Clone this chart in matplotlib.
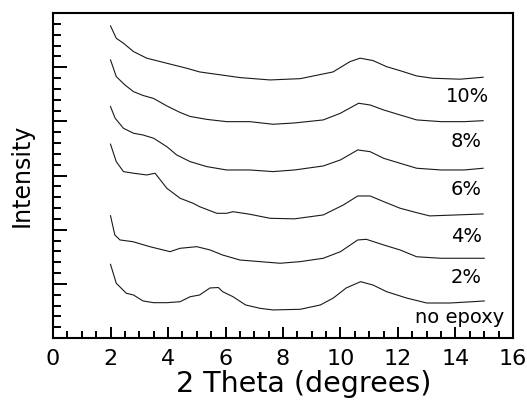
import matplotlib
matplotlib.use("Agg")
import matplotlib.pyplot as plt
from matplotlib.ticker import MultipleLocator

# XRD traces, stacked with an offset (arbitrary intensity units)
x_none = [2.0, 2.2, 2.55, 2.8, 3.13, 3.5, 3.96, 4.42, 4.77, 5.1, 5.46, 5.75, 5.9,
          6.26, 6.7, 7.2, 7.65, 8.6, 9.3, 9.75, 10.2, 10.7, 11.13, 11.6, 12.3,
          13.0, 13.8, 14.6, 15.0]
y_none = [6.80, 5.05, 4.13, 3.97, 3.42, 3.26, 3.26, 3.35, 3.81, 3.97, 4.62, 4.66, 4.28,
          3.81, 3.05, 2.74, 2.59, 2.65, 3.05, 3.69, 4.62, 5.20, 4.89, 4.28, 3.69,
          3.23, 3.23, 3.35, 3.42]

x_2 = [2.0, 2.15, 2.33, 2.78, 3.37, 4.07, 4.42, 5.0, 5.46, 5.9, 6.5, 7.2, 7.9,
       8.6, 9.4, 10.0, 10.6, 10.9, 11.5, 12.07, 12.65, 13.5, 14.3, 15.0]
y_2 = [11.29, 9.51, 9.05, 8.89, 8.43, 7.97, 8.28, 8.43, 8.13, 7.66, 7.20, 7.05, 6.90,
       7.05, 7.36, 7.97, 9.05, 9.11, 8.59, 8.13, 7.50, 7.36, 7.36, 7.36]

x_4 = [2.0, 2.2, 2.45, 2.8, 3.26, 3.55, 3.96, 4.42, 4.87, 5.1, 5.7, 6.04, 6.26,
       6.85, 7.55, 8.4, 9.4, 10.1, 10.6, 11.03, 11.5, 12.07, 12.65, 13.1, 14.04, 14.96]
y_4 = [17.89, 16.28, 15.36, 15.21, 15.05, 15.21, 13.82, 12.90, 12.44, 12.12, 11.51, 11.51, 11.66,
       11.42, 11.05, 11.00, 11.36, 12.28, 13.11, 13.11, 12.59, 11.98, 11.57, 11.27, 11.36, 11.45]

x_6 = [2.0, 2.16, 2.45, 2.8, 3.13, 3.5, 3.96, 4.3, 4.77, 5.35, 6.04, 6.85, 7.65,
       8.4, 9.4, 10.0, 10.6, 11.03, 11.5, 12.07, 12.65, 13.5, 14.3, 14.96]
y_6 = [21.36, 20.29, 19.36, 18.90, 18.74, 18.44, 17.66, 16.90, 16.28, 15.82, 15.51, 15.51, 15.36,
       15.51, 15.88, 16.44, 17.36, 17.20, 16.59, 16.13, 15.67, 15.51, 15.51, 15.67]

x_8 = [2.0, 2.2, 2.5, 2.8, 3.13, 3.5, 3.96, 4.42, 4.77, 5.35, 6.04, 6.85, 7.65,
       8.4, 9.4, 10.0, 10.63, 11.03, 11.5, 12.07, 12.65, 13.5, 14.3, 14.96]
y_8 = [25.67, 24.13, 23.36, 22.74, 22.39, 22.11, 21.42, 20.82, 20.45, 20.18, 19.97, 19.97, 19.73,
       19.85, 20.13, 20.75, 21.67, 21.51, 21.05, 20.59, 20.13, 19.97, 19.97, 20.06]

x_10 = [2.0, 2.2, 2.45, 2.8, 3.26, 3.96, 4.65, 5.1, 6.5, 7.55, 8.6, 9.74, 10.33,
        10.68, 11.13, 11.6, 12.07, 12.65, 13.2, 14.16, 14.96]
y_10 = [28.81, 27.67, 27.21, 26.44, 25.83, 25.36, 24.90, 24.56, 24.04, 23.82, 23.94, 24.56, 25.51,
        25.83, 25.61, 25.05, 24.68, 24.19, 23.98, 23.89, 24.07]

curves = [(x_none, y_none), (x_2, y_2), (x_4, y_4), (x_6, y_6), (x_8, y_8), (x_10, y_10)]

labels = ["no epoxy", "2%", "4%", "6%", "8%", "10%"]
label_x = [15.69, 14.92, 14.92, 14.92, 14.92, 15.17]
label_y = [1.43, 5.08, 8.86, 13.2, 17.64, 21.79]

fig = plt.figure(figsize=(5.27, 4.0), dpi=100)
ax = fig.add_axes([0.1006, 0.155, 0.8728, 0.8125])

for xs, ys in curves:
    ax.plot(xs, ys, color="#1a1a1a", linewidth=0.8)

for txt, tx, ty in zip(labels, label_x, label_y):
    ax.text(tx, ty, txt, ha="right", va="baseline", fontsize=14)

ax.set_xlim(0, 16)
ax.set_ylim(0, 30)
ax.xaxis.set_major_locator(MultipleLocator(2))
ax.xaxis.set_minor_locator(MultipleLocator(0.5))
ax.yaxis.set_major_locator(MultipleLocator(5))
ax.yaxis.set_minor_locator(MultipleLocator(1))

ax.tick_params(axis="x", which="both", direction="in", top=False, bottom=True,
               labelsize=16, pad=8, width=1.4)
ax.tick_params(axis="x", which="major", length=8)
ax.tick_params(axis="x", which="minor", length=5)
ax.tick_params(axis="y", which="both", direction="in", left=True, right=False,
               labelleft=False, width=1.4)
ax.tick_params(axis="y", which="major", length=10)
ax.tick_params(axis="y", which="minor", length=6)

for sp in ax.spines.values():
    sp.set_linewidth(1.5)

ax.set_xlabel("2 Theta (degrees)", fontsize=20.5)
ax.xaxis.set_label_coords(0.546, -0.10)
ax.set_ylabel("Intensity", fontsize=17, labelpad=14)

fig.savefig("out.png", dpi=100)
